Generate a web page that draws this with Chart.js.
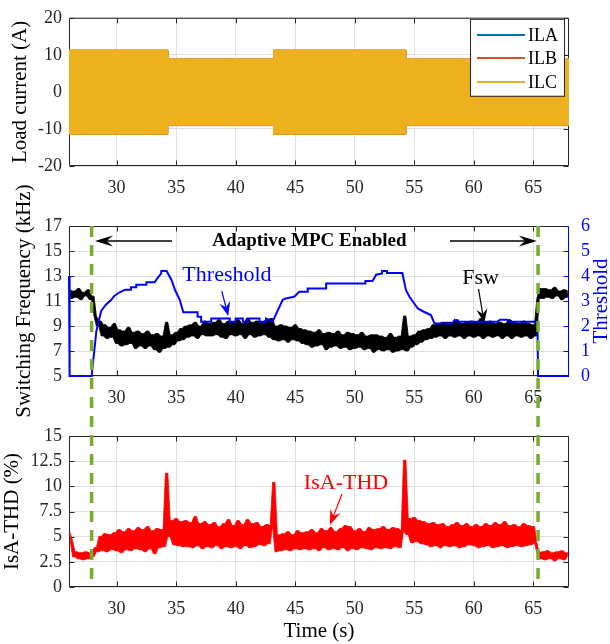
<!DOCTYPE html>
<html>
<head>
<meta charset="UTF-8" />
<title>Adaptive MPC</title>
<script src="https://cdn.jsdelivr.net/npm/chart.js"></script>
<style>
  html, body { margin: 0; padding: 0; background: #fff; }
  body { width: 610px; height: 644px; position: relative; overflow: hidden; }
  canvas { position: absolute; left: 0; top: 0; }
</style>
</head>
<body>
<canvas id="c1" width="610" height="644"></canvas>
<canvas id="c2" width="610" height="644"></canvas>
<canvas id="c3" width="610" height="644"></canvas>
<script>
// ---------- data ----------
const timeTicks = [30, 35, 40, 45, 50, 55, 60, 65]
const loadTicks = [-20, -10, 0, 10, 20]
const fswTicks = [5, 7, 9, 11, 13, 15, 17]
const thrTicks = [0, 1, 2, 3, 4, 5, 6]
const thdTicks = [0, 2.5, 5, 7.5, 10, 12.5, 15]

// load current envelopes (A): load steps at 34.3 / 43.2 / 54.3 s
const loadT = [26, 34.3, 34.3, 43.2, 43.2, 54.3, 54.3, 68]
const ilaHi = [11.2, 11.2, 8.8, 8.8, 11.2, 11.2, 8.8, 8.8]
const ilaLo = [-11.2, -11.2, -8.9, -8.9, -11.2, -11.2, -8.9, -8.9]
const ilbHi = [11.3, 11.3, 8.9, 8.9, 11.3, 11.3, 8.9, 8.9]
const ilbLo = [-11.5, -11.5, -9.1, -9.1, -11.5, -11.5, -9.1, -9.1]
const ilcHi = [11.3, 11.3, 8.9, 8.9, 11.3, 11.3, 8.9, 8.9]
const ilcLo = [-11.4, -11.4, -9.0, -9.0, -11.4, -11.4, -9.0, -9.0]

// sampled traces, one value every 0.2 s from 26 s to 68 s
const sampleStart = 26
const sampleStep = 0.2
const fsw = [ // switching frequency (kHz)
  11.9, 11.2, 11.8, 11.3, 12.0, 11.1, 11.7, 11.4, 11.9, 11.1,
  11.4, 9.8, 9.0, 9.4, 8.2, 9.1, 8.0, 8.9, 8.1, 9.2,
  7.6, 8.7, 7.4, 8.6, 7.5, 8.9, 7.6, 8.5, 7.2, 8.6,
  7.4, 8.4, 7.2, 8.6, 7.4, 8.3, 7.1, 8.4, 6.9, 8.2,
  7.2, 9.3, 7.3, 8.3, 7.5, 8.5, 7.8, 8.8, 7.9, 9.0,
  8.1, 9.1, 8.2, 9.3, 8.0, 9.0, 8.3, 9.4, 8.2, 9.2,
  8.2, 9.3, 8.3, 9.5, 8.1, 9.2, 8.0, 9.4, 8.3, 9.3,
  8.2, 9.5, 8.3, 9.2, 8.0, 9.6, 8.3, 9.3, 8.1, 9.4,
  8.2, 9.3, 8.3, 9.5, 8.1, 9.6, 7.9, 9.0, 7.8, 9.1,
  7.9, 9.0, 7.7, 8.9, 7.9, 9.1, 7.8, 8.8, 7.6, 8.7,
  7.5, 8.6, 7.3, 8.5, 7.4, 8.7, 7.5, 8.4, 7.1, 8.5,
  7.3, 8.4, 7.4, 8.6, 7.2, 8.3, 7.3, 8.5, 7.1, 8.4,
  7.2, 8.3, 7.3, 8.5, 7.1, 8.2, 7.2, 8.3, 6.9, 8.3,
  7.1, 8.2, 7.0, 8.1, 7.1, 8.4, 6.9, 8.1, 7.0, 8.2,
  7.1, 9.8, 7.0, 8.2, 7.3, 8.3, 7.5, 8.6, 7.7, 8.7,
  7.9, 8.8, 8.0, 9.1, 8.1, 9.2, 8.2, 9.3, 8.0, 9.3,
  8.2, 9.3, 8.1, 9.5, 8.2, 9.2, 8.0, 9.3, 8.2, 9.4,
  8.1, 9.3, 8.2, 9.6, 8.0, 9.3, 8.2, 9.4, 8.1, 9.2,
  8.2, 9.3, 8.0, 9.2, 8.2, 9.5, 8.0, 9.3, 8.2, 9.2,
  8.1, 9.4, 8.2, 9.2, 8.0, 9.1, 8.2, 11.2, 12.0, 11.2,
  12.0, 11.3, 11.9, 11.2, 12.1, 11.4, 11.8, 11.1, 11.9, 11.3,
  11.8
]
const thd = [ // IsA THD (%)
  5.4, 4.6, 3.0, 3.5, 2.8, 3.4, 2.7, 3.5, 2.8, 3.4,
  3.0, 3.9, 3.5, 5.0, 3.6, 5.3, 3.5, 5.2, 3.7, 5.4,
  3.6, 5.7, 3.4, 5.5, 3.7, 5.8, 3.6, 5.6, 3.8, 5.9,
  3.7, 5.7, 3.5, 6.0, 3.8, 5.6, 3.3, 5.8, 3.9, 5.7,
  4.0, 11.3, 5.0, 6.6, 4.2, 6.8, 4.1, 6.5, 4.0, 6.6,
  4.0, 6.4, 3.9, 7.0, 4.1, 6.3, 3.8, 6.5, 4.0, 6.2,
  3.9, 6.4, 4.1, 6.0, 3.8, 6.3, 4.0, 6.7, 3.9, 6.1,
  4.0, 6.6, 3.8, 6.2, 4.1, 6.7, 3.9, 6.3, 4.0, 6.4,
  4.2, 6.0, 4.1, 6.2, 4.3, 6.1, 10.4, 3.5, 5.2, 3.6,
  5.3, 3.7, 5.5, 3.6, 5.2, 3.8, 5.6, 3.7, 5.4, 3.8,
  5.5, 3.7, 5.7, 3.8, 5.4, 3.6, 5.8, 3.9, 5.6, 3.7,
  5.9, 3.8, 5.5, 3.7, 5.8, 3.9, 6.1, 3.6, 6.0, 3.8,
  5.6, 3.7, 5.8, 3.9, 5.5, 3.8, 5.9, 3.7, 5.7, 3.9,
  5.8, 3.8, 6.0, 3.9, 5.7, 3.8, 5.9, 4.0, 5.8, 3.9,
  5.6, 12.6, 5.2, 6.8, 4.4, 6.9, 4.5, 6.6, 4.3, 6.5,
  4.2, 6.3, 4.0, 6.4, 4.1, 6.2, 3.9, 6.3, 4.1, 6.0,
  4.0, 6.2, 4.1, 6.4, 3.9, 6.1, 4.0, 6.3, 4.2, 6.0,
  4.1, 6.2, 3.9, 6.0, 4.0, 6.3, 4.1, 6.1, 3.9, 6.4,
  4.0, 6.2, 4.1, 6.5, 3.9, 6.1, 4.0, 6.2, 4.1, 6.0,
  4.0, 6.3, 4.1, 6.1, 4.2, 6.0, 4.4, 3.4, 2.8, 3.5,
  2.7, 3.6, 2.8, 3.4, 2.6, 3.5, 2.8, 3.6, 2.7, 3.4,
  3.1
]

// adaptive threshold (right axis), breakpoints
const thrT = [26.0, 26.05, 27.9, 28.3, 28.7, 29.1, 29.55, 29.8, 30.25, 30.7, 31.2, 31.2, 31.65, 31.65,
  32.5, 32.5, 33.2, 33.4, 33.75, 33.75, 34.2, 34.6, 34.9, 35.3, 35.6, 36.8, 36.8, 37.1, 37.1, 37.95,
  37.95, 39.5, 39.5, 40.0, 40.0, 40.6, 40.6, 41.0, 41.0, 42.0, 42.0, 42.55, 42.55, 43.1,
  43.95, 44.2, 44.9, 45.35, 46.05, 46.05, 47.6, 47.6, 50.9, 50.9, 51.5, 51.8, 52.3, 52.3, 52.7, 52.7, 54.0,
  54.3, 54.6, 54.9, 55.3, 55.8, 56.4, 56.7, 58.2, 58.4, 58.7, 62.0, 62.2, 62.8, 63.0, 65.35, 65.4, 68.0]
const thrV = [4.0, 0.0, 0.0, 1.8, 2.6, 2.85, 3.05, 3.2, 3.35, 3.45, 3.45, 3.55, 3.55, 3.65,
  3.65, 3.75, 3.75, 3.9, 4.1, 4.2, 4.2, 3.85, 3.45, 3.05, 2.55, 2.55, 2.37, 2.37, 2.17, 2.17,
  2.3, 2.3, 2.17, 2.17, 2.3, 2.3, 2.17, 2.17, 2.3, 2.3, 2.17, 2.17, 2.3, 2.17,
  3.05, 3.1, 3.17, 3.37, 3.37, 3.5, 3.5, 3.7, 3.7, 3.8, 3.8, 4.05, 4.1, 4.2, 4.2, 4.12, 4.12,
  3.44, 3.17, 2.97, 2.7, 2.57, 2.44, 2.1, 2.1, 2.25, 2.17, 2.17, 2.25, 2.25, 2.17, 2.17, 0.0, 0.0]

// adaptive MPC enabled between these instants (s)
const enableTimes = [27.9, 65.4]

// annotation anchors in data units
const mpcLabel = { x: 46.2, y: 15.8 }
const mpcArrows = [[34.65, 28.18], [58.0, 65.3]]
const thrLabel = { x: 39.27, y: 13.08, from: [38.83, 11.8], to: [39.38, 9.8] }
const fswLabel = { x: 60.57, y: 12.84, from: [60.4, 11.96], to: [60.88, 9.24] }
const thdLabel = { x: 49.27, y: 10.33, from: [48.93, 9.24], to: [47.92, 6.16] }

// ---------- styling ----------
const serif = "'Liberation Serif', 'Times New Roman', serif"
const axisGray = '#262626'
const gridGray = '#dfdfdf'
const thrColor = '#0000ff'
const fswColor = '#000000'
const thdColor = '#ff0000'
const greenColor = '#77ac30'
const pageH = 644

const sampleT = fsw.map((_, i) => +(sampleStart + i * sampleStep).toFixed(1))
const pts = (xs, ys) => xs.map((x, i) => ({ x, y: ys[i] }))
// envelope of each pair of neighbouring samples, used to fill the noisy traces solid
const pairEnv = (ys, pick) => ys.slice(1).map((y, i) => ({ x: (sampleT[i] + sampleT[i + 1]) / 2, y: pick(ys[i], y) }))

function xScale(height, title) {
  return {
    type: 'linear', min: 26, max: 68,
    afterBuildTicks: s => { s.ticks = timeTicks.map(v => ({ value: v })) },
    afterFit: s => { s.height = height },
    grid: { color: gridGray, drawTicks: false },
    border: { display: false },
    ticks: { color: axisGray, font: { family: serif, size: 18 }, padding: 11, maxRotation: 0, callback: v => String(v) },
    title: title
      ? { display: true, text: title, color: '#000', font: { family: serif, size: 21 }, padding: 0 }
      : { display: false }
  }
}

function yScale(min, max, ticks, title, titlePad) {
  return {
    type: 'linear', min, max, position: 'left',
    afterBuildTicks: s => { s.ticks = ticks.map(v => ({ value: v })) },
    afterFit: s => { s.width = 69 },
    grid: { color: gridGray, drawTicks: false },
    border: { display: false },
    ticks: { color: axisGray, font: { family: serif, size: 18 }, padding: 7, callback: v => String(v) },
    title: { display: true, text: title, color: '#000', font: { family: serif, size: 21 }, padding: { top: titlePad, bottom: 0 } }
  }
}

function arrow(ctx, x0, y0, x1, y1, color, len, wid, lw) {
  const a = Math.atan2(y1 - y0, x1 - x0)
  ctx.save()
  ctx.strokeStyle = color
  ctx.fillStyle = color
  ctx.lineWidth = lw
  ctx.beginPath()
  ctx.moveTo(x0, y0)
  ctx.lineTo(x1 - Math.cos(a) * len * 0.6, y1 - Math.sin(a) * len * 0.6)
  ctx.stroke()
  ctx.translate(x1, y1)
  ctx.rotate(a)
  ctx.beginPath()
  ctx.moveTo(0, 0)
  ctx.lineTo(-len, -wid / 2)
  ctx.lineTo(-len * 0.65, 0)
  ctx.lineTo(-len, wid / 2)
  ctx.closePath()
  ctx.fill()
  ctx.restore()
}

// box + inward ticks, MATLAB style
const framePlugin = {
  id: 'frame',
  beforeDatasetsDraw(chart) {
    const { ctx, chartArea: a, scales } = chart
    const L = a.left + 0.5, R = a.right - 0.5, T = a.top + 0.5, B = a.bottom - 0.5
    ctx.save()
    ctx.lineWidth = 1
    ctx.strokeStyle = axisGray
    ctx.beginPath()
    ctx.moveTo(R, T); ctx.lineTo(L, T); ctx.lineTo(L, B); ctx.lineTo(R, B)
    if (!scales.y1) ctx.lineTo(R, T)
    scales.x.ticks.forEach(t => {
      const px = Math.round(scales.x.getPixelForValue(t.value)) + 0.5
      ctx.moveTo(px, B); ctx.lineTo(px, B - 5)
      ctx.moveTo(px, T); ctx.lineTo(px, T + 5)
    })
    scales.y.ticks.forEach(t => {
      const py = Math.round(scales.y.getPixelForValue(t.value)) + 0.5
      ctx.moveTo(L, py); ctx.lineTo(L + 5, py)
      if (!scales.y1) { ctx.moveTo(R, py); ctx.lineTo(R - 5, py) }
    })
    ctx.stroke()
    if (scales.y1) {
      ctx.strokeStyle = thrColor
      ctx.beginPath()
      ctx.moveTo(R, T); ctx.lineTo(R, B)
      scales.y1.ticks.forEach(t => {
        const py = Math.round(scales.y1.getPixelForValue(t.value)) + 0.5
        ctx.moveTo(R, py); ctx.lineTo(R - 5, py)
      })
      ctx.stroke()
    }
    ctx.restore()
  }
}

// legend box inside the top panel
const legendBox = {
  id: 'legendBox',
  afterDraw(chart) {
    const { ctx, chartArea: a } = chart
    const items = chart.data.datasets.filter(d => d.inLegend).reverse()
    const w = 94, h = 77
    const x0 = a.right - 5 - w, y0 = a.top + 1
    ctx.save()
    ctx.fillStyle = '#fff'
    ctx.fillRect(x0, y0, w, h)
    ctx.strokeStyle = axisGray
    ctx.lineWidth = 1
    ctx.strokeRect(x0 + 0.5, y0 + 0.5, w, h)
    ctx.font = `18px ${serif}`
    ctx.textBaseline = 'middle'
    items.forEach((d, i) => {
      const y = Math.round(y0 + 16 + i * 23.5)
      ctx.strokeStyle = d.legendColor
      ctx.lineWidth = 2
      ctx.beginPath(); ctx.moveTo(x0 + 7, y); ctx.lineTo(x0 + 55, y); ctx.stroke()
      ctx.fillStyle = '#000'
      ctx.fillText(d.label, x0 + 58, y + 1)
    })
    ctx.restore()
  }
}

// dashed "adaptive MPC" boundaries, from the top of panel 2 to the bottom of panel 3
const enablePlugin = {
  id: 'enable',
  afterDraw(chart, args, opts) {
    const { ctx, chartArea: a, scales: { x } } = chart
    const top = opts.from.chartArea.top
    ctx.save()
    ctx.strokeStyle = greenColor
    ctx.lineWidth = 3.5
    ctx.setLineDash([11, 8])
    enableTimes.forEach(t => {
      const px = x.getPixelForValue(t)
      ctx.beginPath()
      ctx.moveTo(px, top)
      ctx.lineTo(px, a.bottom)
      ctx.stroke()
    })
    ctx.restore()
  }
}

const notesPlugin = {
  id: 'notes',
  afterDatasetsDraw(chart, args, opts) {
    const { ctx, scales } = chart
    const X = v => scales.x.getPixelForValue(v)
    const Y = v => scales.y.getPixelForValue(v)
    ctx.save()
    ctx.textAlign = 'center'
    ctx.textBaseline = 'middle'
    opts.items.forEach(n => {
      ctx.font = `${n.bold ? 'bold ' : ''}${n.size}px ${serif}`
      ctx.fillStyle = n.color
      ctx.fillText(n.text, X(n.x), Y(n.y))
      ;(n.arrows || []).forEach(ar => {
        const [xa, ya, xb, yb] = ar
        arrow(ctx, X(xa), Y(ya), X(xb), Y(yb), n.color, n.head[0], n.head[1], n.lw)
      })
    })
    if (opts.sideTitle) {
      const s = opts.sideTitle
      ctx.font = `21px ${serif}`
      ctx.fillStyle = s.color
      ctx.translate(s.x, (chart.chartArea.top + chart.chartArea.bottom) / 2)
      ctx.rotate(-Math.PI / 2)
      ctx.fillText(s.text, 0, 0)
    }
    ctx.restore()
  }
}

const baseOptions = {
  responsive: false,
  animation: false,
  events: [],
  elements: { point: { radius: 0 }, line: { tension: 0 } }
}

// noisy trace = solid band between pair envelopes + the raw line on top
function noisySets(label, ys, color, yAxisID) {
  return [
    { label, data: pts(sampleT, ys), borderColor: color, borderWidth: 1, yAxisID },
    { label: label + ' max', data: pairEnv(ys, Math.max), borderColor: color, borderWidth: 0.8, yAxisID },
    { label: label + ' min', data: pairEnv(ys, Math.min), borderColor: color, borderWidth: 0.8, backgroundColor: color, fill: '-1', yAxisID }
  ]
}

// ---------- panel 1: load currents ----------
const phases = [
  { name: 'ILC', color: '#edb120', hi: ilcHi, lo: ilcLo },
  { name: 'ILB', color: '#d95319', hi: ilbHi, lo: ilbLo },
  { name: 'ILA', color: '#0072bd', hi: ilaHi, lo: ilaLo }
]
const loadSets = []
phases.forEach(p => {
  loadSets.push({ label: p.name, inLegend: true, legendColor: p.color, data: pts(loadT, p.hi), borderColor: p.color, borderWidth: 1, fill: false })
  loadSets.push({ label: p.name + ' min', data: pts(loadT, p.lo), borderColor: p.color, backgroundColor: p.color, borderWidth: 1, fill: '-1' })
})

new Chart(document.getElementById('c1'), {
  type: 'line',
  data: { datasets: loadSets },
  options: {
    ...baseOptions,
    layout: { padding: { top: 15, right: 41, left: 0, bottom: 0 } },
    scales: { x: xScale(pageH - 166), y: yScale(-20, 20, loadTicks, 'Load current (A)', 8) },
    plugins: { legend: { display: false }, tooltip: { enabled: false } }
  },
  plugins: [framePlugin, legendBox]
})

// ---------- panel 2: switching frequency and threshold ----------
const chart2 = new Chart(document.getElementById('c2'), {
  type: 'line',
  data: {
    datasets: [
      { label: 'Threshold', yAxisID: 'y1', data: pts(thrT, thrV), borderColor: thrColor, borderWidth: 2, clip: false },
      ...noisySets('Fsw', fsw, fswColor, 'y')
    ]
  },
  options: {
    ...baseOptions,
    layout: { padding: { top: 226, right: 0, left: 0, bottom: 0 } },
    scales: {
      x: xScale(pageH - 376),
      y: yScale(5, 17, fswTicks, 'Switching Frequency (kHz)', 12),
      y1: {
        type: 'linear', min: 0, max: 6, position: 'right',
        afterBuildTicks: s => { s.ticks = thrTicks.map(v => ({ value: v })) },
        afterFit: s => { s.width = 41 },
        grid: { display: false, drawTicks: false },
        border: { display: false },
        ticks: { color: thrColor, font: { family: serif, size: 18 }, padding: 12, callback: v => String(v) },
        title: { display: false }
      }
    },
    plugins: {
      legend: { display: false },
      tooltip: { enabled: false },
      notes: {
        items: [
          { text: 'Adaptive MPC Enabled', bold: true, size: 19, color: '#000', x: mpcLabel.x, y: mpcLabel.y,
            arrows: mpcArrows.map(([a, b]) => [a, mpcLabel.y, b, mpcLabel.y]), head: [18, 11], lw: 1.3 },
          { text: 'Threshold', size: 22, color: thrColor, x: thrLabel.x, y: thrLabel.y,
            arrows: [[...thrLabel.from, ...thrLabel.to]], head: [14, 11], lw: 1.2 },
          { text: 'Fsw', size: 22, color: '#000', x: fswLabel.x, y: fswLabel.y,
            arrows: [[...fswLabel.from, ...fswLabel.to]], head: [14, 11], lw: 1.2 }
        ],
        sideTitle: { text: 'Threshold', color: thrColor, x: 601 }
      }
    }
  },
  plugins: [framePlugin, notesPlugin]
})

// ---------- panel 3: THD ----------
new Chart(document.getElementById('c3'), {
  type: 'line',
  data: { datasets: noisySets('IsA-THD', thd, thdColor, 'y') },
  options: {
    ...baseOptions,
    layout: { padding: { top: 436, right: 41, left: 0, bottom: 0 } },
    scales: { x: xScale(pageH - 587, 'Time (s)'), y: yScale(0, 15, thdTicks, 'IsA-THD (%)', 0) },
    plugins: {
      legend: { display: false },
      tooltip: { enabled: false },
      enable: { from: chart2 },
      notes: {
        items: [
          { text: 'IsA-THD', size: 22, color: thdColor, x: thdLabel.x, y: thdLabel.y,
            arrows: [[...thdLabel.from, ...thdLabel.to]], head: [15, 11], lw: 1.2 }
        ]
      }
    }
  },
  plugins: [framePlugin, notesPlugin, enablePlugin]
})
</script>
</body>
</html>
